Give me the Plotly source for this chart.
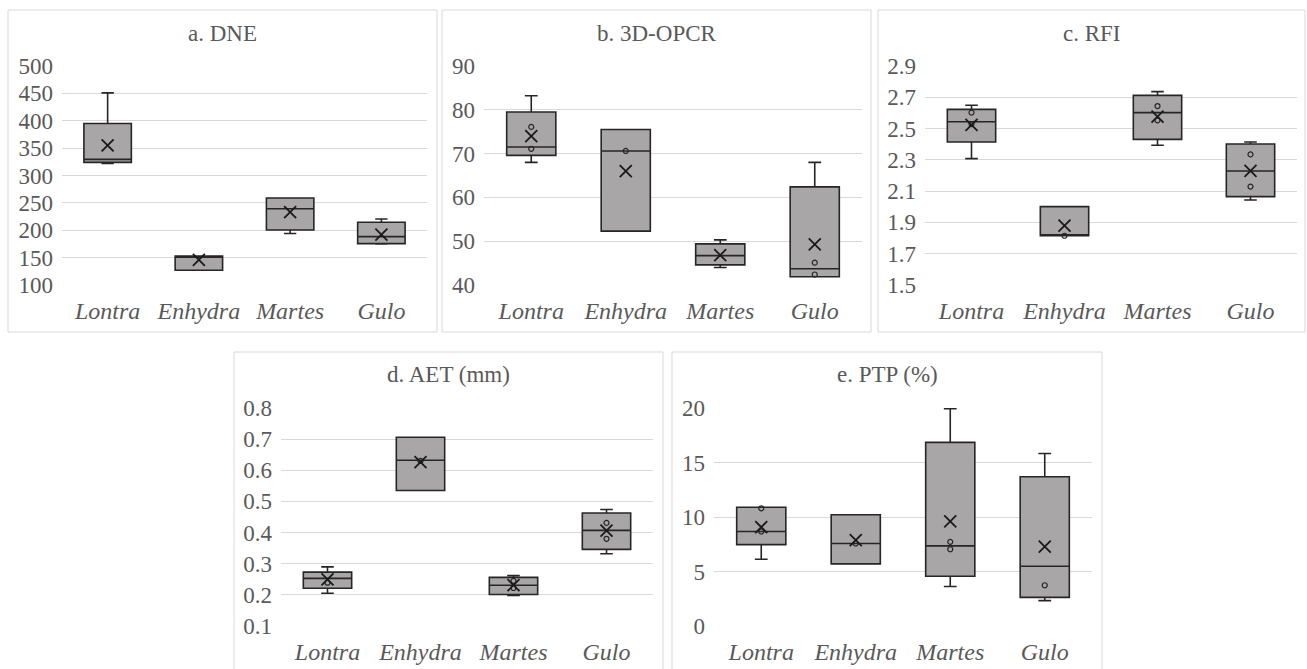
import plotly.graph_objects as go

W, H = 1307, 669

categories = ["Lontra", "Enhydra", "Martes", "Gulo"]

# a. DNE
dne_lower = [322, 127, 194, 175]
dne_q1 = [324, 127, 200.5, 175.5]
dne_median = [329.5, 151, 239.4, 188.3]
dne_q3 = [395, 153, 259, 214.5]
dne_upper = [451, 153, 259, 220.5]
dne_mean = [355, 146, 233, 192]
dne_pts_x = []
dne_pts_y = []

# b. 3D-OPCR
opcr_lower = [68.0, 52.3, 44.0, 41.9]
opcr_q1 = [69.6, 52.3, 44.6, 41.9]
opcr_median = [71.5, 70.6, 46.7, 43.7]
opcr_q3 = [79.5, 75.5, 49.4, 62.4]
opcr_upper = [83.2, 75.5, 50.3, 68.0]
opcr_mean = [74.0, 66.0, 46.8, 49.3]
opcr_pts_x = ["Lontra", "Lontra", "Enhydra", "Gulo", "Gulo"]
opcr_pts_y = [76.1, 71.1, 70.6, 45.1, 42.4]

# c. RFI
rfi_lower = [2.308, 1.815, 2.393, 2.043]
rfi_q1 = [2.414, 1.815, 2.431, 2.065]
rfi_median = [2.544, 1.82, 2.602, 2.229]
rfi_q3 = [2.623, 2.001, 2.712, 2.401]
rfi_upper = [2.649, 2.001, 2.736, 2.414]
rfi_mean = [2.523, 1.879, 2.576, 2.229]
rfi_pts_x = ["Lontra", "Lontra", "Enhydra", "Martes", "Martes", "Gulo", "Gulo"]
rfi_pts_y = [2.602, 2.529, 1.815, 2.644, 2.553, 2.335, 2.129]

# d. AET (mm)
aet_lower = [0.205, 0.535, 0.198, 0.332]
aet_q1 = [0.221, 0.535, 0.201, 0.346]
aet_median = [0.253, 0.632, 0.231, 0.407]
aet_q3 = [0.273, 0.706, 0.256, 0.463]
aet_upper = [0.290, 0.706, 0.262, 0.474]
aet_mean = [0.250, 0.626, 0.231, 0.406]
aet_pts_x = ["Lontra", "Enhydra", "Martes", "Martes", "Gulo", "Gulo"]
aet_pts_y = [0.239, 0.630, 0.245, 0.222, 0.431, 0.380]

# e. PTP (%)
ptp_lower = [6.12, 5.70, 3.62, 2.33]
ptp_q1 = [7.47, 5.70, 4.56, 2.63]
ptp_median = [8.67, 7.57, 7.35, 5.48]
ptp_q3 = [10.9, 10.2, 16.85, 13.69]
ptp_upper = [10.9, 10.2, 19.94, 15.83]
ptp_mean = [9.07, 7.87, 9.59, 7.29]
ptp_pts_x = ["Lontra", "Lontra", "Enhydra", "Martes", "Martes", "Gulo"]
ptp_pts_y = [10.8, 8.67, 7.57, 7.72, 7.04, 3.74]

titles = ["a. DNE", "b. 3D-OPCR", "c. RFI", "d. AET (mm)", "e. PTP (%)"]
ranges = [(100, 500, 50), (40, 90, 10), (1.5, 2.9, 0.2), (0.1, 0.8, 0.1), (0, 20, 5)]
tickfmt = ["d", "d", ".1f", ".1f", "d"]

panels = [
    (dne_lower, dne_q1, dne_median, dne_q3, dne_upper, dne_mean, dne_pts_x, dne_pts_y),
    (opcr_lower, opcr_q1, opcr_median, opcr_q3, opcr_upper, opcr_mean, opcr_pts_x, opcr_pts_y),
    (rfi_lower, rfi_q1, rfi_median, rfi_q3, rfi_upper, rfi_mean, rfi_pts_x, rfi_pts_y),
    (aet_lower, aet_q1, aet_median, aet_q3, aet_upper, aet_mean, aet_pts_x, aet_pts_y),
    (ptp_lower, ptp_q1, ptp_median, ptp_q3, ptp_upper, ptp_mean, ptp_pts_x, ptp_pts_y),
]

# layout in pixels: plot area (x0, x1, ytop, ybottom), panel frame (x0, x1, y0, y1), title y
plot_px = [(62, 427, 66, 285), (484, 862, 66, 285), (925, 1297, 66, 285),
           (281, 653, 408, 626), (714, 1092, 408, 626)]
frame_px = [(8, 437, 10, 332), (442, 871, 10, 332), (878, 1305, 10, 332),
            (234, 663, 352, 675), (672, 1102, 352, 675)]
title_py = [33, 33, 33, 375, 375]

TXT = "#595959"
SERIF = "Liberation Serif, Times New Roman, serif"

fig = go.Figure()
layout = dict(width=W, height=H, margin=dict(l=0, r=0, t=0, b=0, autoexpand=False),
              paper_bgcolor="white", plot_bgcolor="white", showlegend=False,
              shapes=[], annotations=[])

for i, (lo, q1, med, q3, up, mean, px_, py_) in enumerate(panels):
    n = i + 1
    xa = "x" if n == 1 else f"x{n}"
    ya = "y" if n == 1 else f"y{n}"
    fig.add_trace(go.Box(
        x=categories, lowerfence=lo, q1=q1, median=med, q3=q3, upperfence=up,
        xaxis=xa, yaxis=ya, width=0.52, whiskerwidth=0.26,
        fillcolor="#A8A6A6", line=dict(color="#262626", width=1.6),
        boxpoints=False, hoverinfo="skip"))
    if px_:
        fig.add_trace(go.Scatter(
            x=px_, y=py_, mode="markers", xaxis=xa, yaxis=ya,
            marker=dict(symbol="circle-open", size=5, color="#262626",
                        line=dict(width=1.2, color="#262626"))))
    fig.add_trace(go.Scatter(
        x=categories, y=mean, mode="markers", xaxis=xa, yaxis=ya,
        marker=dict(symbol="x-thin-open", size=12, color="#1a1a1a",
                    line=dict(width=1.8, color="#1a1a1a"))))

    x0, x1, yt, yb = plot_px[i]
    rmin, rmax, dt = ranges[i]
    layout[f"xaxis{n if n > 1 else ''}"] = dict(
        domain=[x0 / W, x1 / W], anchor=ya, type="category", automargin=False,
        categoryorder="array", categoryarray=categories, range=[-0.5, 3.5],
        showgrid=False, showline=False, zeroline=False, ticks="",
        tickfont=dict(family=SERIF, size=24, color=TXT, style="italic"),
        ticklabelstandoff=9)
    layout[f"yaxis{n if n > 1 else ''}"] = dict(
        domain=[1 - yb / H, 1 - yt / H], anchor=xa, range=[rmin, rmax],
        tick0=rmin, dtick=dt, tickformat=tickfmt[i], automargin=False,
        showgrid=True, gridcolor="#D9D9D9", gridwidth=1, zeroline=False,
        showline=False, ticks="", ticklabelstandoff=8,
        tickfont=dict(family=SERIF, size=23, color=TXT))
    fx0, fx1, fy0, fy1 = frame_px[i]
    layout["shapes"].append(dict(type="rect", xref="paper", yref="paper",
                                 x0=fx0 / W, x1=fx1 / W, y0=1 - fy1 / H, y1=1 - fy0 / H,
                                 line=dict(color="#D9D9D9", width=1), layer="below"))
    layout["annotations"].append(dict(
        text=titles[i], xref="paper", yref="paper", x=(fx0 + fx1) / 2 / W,
        y=1 - title_py[i] / H, xanchor="center", yanchor="middle", showarrow=False,
        font=dict(family=SERIF, size=23, color=TXT)))

fig.update_layout(**layout)
fig.write_html("out.html", config={"displayModeBar": False},
               post_script="document.body.style.margin='0px';document.body.style.overflow='hidden';")
